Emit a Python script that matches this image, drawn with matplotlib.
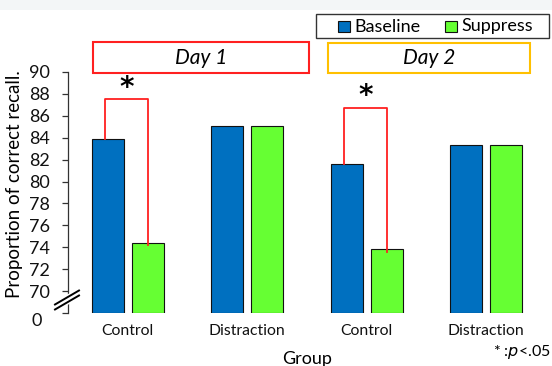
import numpy as np
import matplotlib
matplotlib.use('Agg')
import matplotlib.pyplot as plt
from matplotlib.patches import Rectangle

plt.rcParams['font.family'] = ['Lato', 'DejaVu Sans']

groups = ['Control', 'Distraction', 'Control', 'Distraction']
baseline = [83.9, 85.1, 81.6, 83.3]
suppress = [74.4, 85.1, 73.8, 83.3]

# broken axis: the bottom of the axis stands for 0
y_floor = 68
y_ticks = [70, 72, 74, 76, 78, 80, 82, 84, 86, 88, 90]

# significance brackets: (group index, bracket top)
sig = [(0, 87.5), (2, 86.7)]

c_base = '#0070c0'
c_supp = '#66ff33'

W, H = 552, 366
fig = plt.figure(figsize=(W / 100, H / 100), dpi=100)
ax = fig.add_axes([68 / W, 1 - 313 / H, 478 / W, 241 / H])

def fpos(px, py):
    return px / W, 1 - py / H

# light band across the top
fig.patches.append(Rectangle((0, 1 - 10 / H), 1, 10 / H, transform=fig.transFigure,
                             facecolor='#f3f6f7', edgecolor='none', zorder=0))

x = np.arange(len(groups))
w = 0.268
off = 0.167
ax.bar(x - off, np.array(baseline) - y_floor, w, bottom=y_floor, color=c_base,
       edgecolor='#111111', linewidth=0.8, zorder=2)
ax.bar(x + off, np.array(suppress) - y_floor, w, bottom=y_floor, color=c_supp,
       edgecolor='#111111', linewidth=0.8, zorder=2)

for gi, top in sig:
    xl = gi - off - 0.023
    xr = gi + off
    ax.plot([xl, xl, xr, xr], [baseline[gi], top, top, suppress[gi] - 0.2],
            color='#ff2020', lw=1.3, zorder=3, clip_on=False)
    ax.text((xl + xr) / 2, top - 0.2, '*', ha='center', va='bottom',
            fontsize=20, fontweight='bold', family='DejaVu Sans')

ax.set_xlim(-0.5, 3.5)
ax.set_ylim(y_floor, 90)
ax.set_yticks([y_floor] + y_ticks)
ax.set_yticklabels([''] + [str(t) for t in y_ticks])
ax.set_xticks(x)
ax.set_xticklabels(groups)
ax.tick_params(axis='y', direction='out', length=4.5, width=0.9, colors='#333333',
               labelcolor='#111111', labelsize=13, pad=8.5)
ax.tick_params(axis='x', length=0, labelsize=11.3, pad=8, labelcolor='#111111')
for s in ['top', 'right', 'bottom']:
    ax.spines[s].set_visible(False)
ax.spines['left'].set_color('#333333')
ax.spines['left'].set_linewidth(0.9)

# the "0" at the foot of the broken axis
ax.annotate('0', xy=(0, y_floor), xycoords=('axes fraction', 'data'),
            xytext=(-19, -6), textcoords='offset points', ha='right', va='center',
            fontsize=13, color='#111111')

ax.set_xlabel('Group', fontsize=13, labelpad=9)
fig.text(*fpos(15, 184), 'Proportion of correct recall.', rotation=90,
         ha='center', va='center', fontsize=13.5)

# axis break marks
for col, lw in [('white', 3.5), ('black', 1.4)]:
    for dy in (-2.5, 2.5):
        x0, y0 = fpos(55, 307 + dy)
        x1, y1 = fpos(79, 293 + dy)
        fig.add_artist(plt.Line2D([x0, x1], [y0, y1], color=col, lw=lw,
                                  transform=fig.transFigure))

# day boxes
for (xa, xb, ya), col, lab in [((93, 309, 42), '#ff2020', 'Day 1'),
                               ((328, 530, 43), '#ffc000', 'Day 2')]:
    fig.patches.append(Rectangle(fpos(xa, 73), (xb - xa) / W, (73 - ya) / H,
                                 transform=fig.transFigure, facecolor='white',
                                 edgecolor=col, linewidth=1.5))
    fig.text(*fpos((xa + xb) / 2, 58), lab, ha='center', va='center',
             fontsize=15, style='italic')

# legend
fig.patches.append(Rectangle(fpos(316, 38), 233 / W, 24 / H, transform=fig.transFigure,
                             facecolor='white', edgecolor='#333333', linewidth=1.0))
for sx, col, lab in [(338, c_base, 'Baseline'), (445, c_supp, 'Suppress')]:
    fig.patches.append(Rectangle(fpos(sx, 32.3), 11.5 / W, 11.5 / H,
                                 transform=fig.transFigure,
                                 facecolor=col, edgecolor='#111111', linewidth=0.8))
    fig.text(*fpos(sx + 16, 26.5), lab, ha='left', va='center', fontsize=13)

fig.text(*fpos(551, 352), '* :$\\it{p}$<.05', ha='right', va='center', fontsize=11.5)

fig.savefig('out.png', dpi=100)
